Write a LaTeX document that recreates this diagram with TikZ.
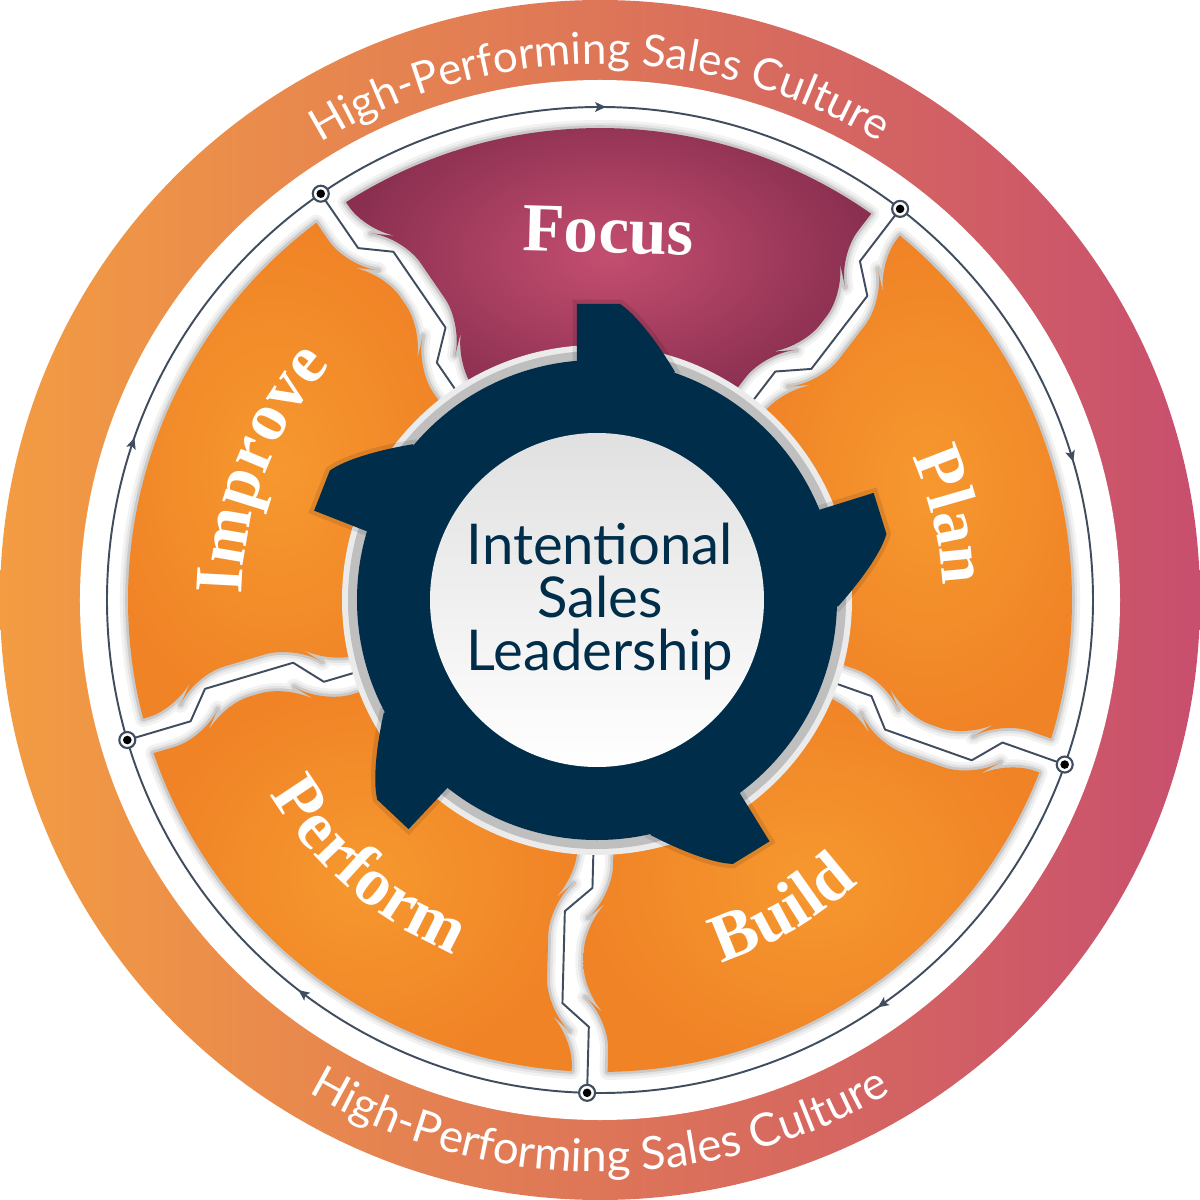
\documentclass[tikz,border=0pt]{standalone}
\usepackage{fontspec}
\usetikzlibrary{decorations.text}
\newfontfamily\segfont{Liberation Serif}
\newfontfamily\latofont{Lato}
\definecolor{navy}{HTML}{002E4A}
\definecolor{linec}{HTML}{3F4D5F}
\definecolor{ringL}{HTML}{F39C42}
\definecolor{ringR}{HTML}{C84F6E}
\definecolor{focusIn}{HTML}{C44E70}
\definecolor{focusOut}{HTML}{8A2F50}
\definecolor{orIn}{HTML}{F6982F}
\definecolor{orOut}{HTML}{F08326}
\newcommand\segstyle{\color{white}\segfont\bfseries\fontsize{19.5pt}{20pt}\selectfont}
\newcommand\ringstyle{\color{white}\latofont\fontsize{12.5pt}{13pt}\selectfont}
\newcommand\ringstyleb{\color{white}\latofont\fontsize{13pt}{13pt}\selectfont}
\newcommand\segpath{(-1.94:472) [rounded corners=9] -- (434.4,-16) -- (411.4,-43) -- (304.8,-43) -- (280.8,-16) -- (222,-16) -- (-66.85:222.9) -- (-68.15:297.7) -- (-73.25:321.1) -- (-73.02:394.9) -- (-69.26:418.3) [sharp corners] -- (-69.57:472) arc[start angle=-69.57, end angle=-1.94, radius=472] -- cycle}
\newcommand\divpath{(492,0) -- (427,0) -- (404,-27) -- (312,-27) -- (288,0) -- (238,0)}
\newcommand\toothpath{(-20,200) -- (-20,296) -- (23,296) .. controls (40,285) and (62,255) .. (78,228) -- (40,200) -- cycle}
\tikzset{
  divline/.style={linec, line width=0.55pt, line join=round},
  seglabel/.style={decorate, decoration={text along path, text={|\segstyle|#1}, text align=center}},
}
\begin{document}
\begin{tikzpicture}[x=0.01cm, y=0.01cm]
\useasboundingbox (-600,-600) rectangle (600,600);
% outer ring
\shade[left color=ringL, right color=ringR] (0,0) circle[radius=600];
\fill[white] (0,0) circle[radius=520];
\draw[divline] (0,0) circle[radius=493];
% segment glows
\foreach \t in {124.5,52.5,-19.5,-91.5,-163.5}{
  \begin{scope}[rotate=\t]
    \draw[black!5, line width=4.6pt, line join=round] \segpath;
    \draw[black!11, line width=3pt, line join=round] \segpath;
    \draw[black!21, line width=1.6pt, line join=round] \segpath;
  \end{scope}
}
% segments
\foreach \t/\ci/\co in {124.5/focusIn/focusOut, 52.5/orIn/orOut, -19.5/orIn/orOut, -91.5/orIn/orOut, -163.5/orIn/orOut}{
  \begin{scope}[rotate=\t]
    \shade[inner color=\ci, outer color=\co] \segpath;
  \end{scope}
}
% divider lines
\foreach \t in {124.5,52.5,-19.5,-91.5,-163.5}{
  \draw[divline, rotate=\t] \divpath;
}
% dots
\foreach \t in {124.5,52.5,-19.5,-91.5,-163.5}{
  \fill[white] (\t:493) circle[radius=8.5];
  \draw[linec, line width=0.6pt] (\t:493) circle[radius=8];
  \fill[black] (\t:493) circle[radius=4.3];
}
% arrowheads (clockwise)
\foreach \t in {90,17,-55,-127,161.5}{
  \fill[linec, rotate=\t] (493,-6) -- (488,5) -- (493,2.5) -- (498,5) -- cycle;
}
% gear
\begin{scope}[shift={(-3,0)}]
  \fill[black!8] (0,0) circle[radius=255];
  \fill[black!25] (0,0) circle[radius=249];
  \foreach \r in {0,-72.7,-148.3,136.7,68.6}{
    \draw[black, opacity=0.10, line width=2.5pt, rotate=\r] \toothpath;
  }
  \foreach \r in {0,-72.7,-148.3,136.7,68.6}{
    \fill[navy, rotate=\r] \toothpath;
  }
  \fill[navy] (0,0) circle[radius=240];
  \shade[top color=black!12, bottom color=white] (0,0) circle[radius=167];
\end{scope}
\node[text=navy, align=center, font=\latofont\fontsize{16pt}{15.1pt}\selectfont] (centre) at (0,-2) {Intentional\\Sales\\Leadership};
% segment labels
\node[font=\segstyle, rotate=-1.5, inner sep=0pt] (focus) at (88.7:369) {Focus};
\path[seglabel=Plan] (38.5:343) arc[start angle=38.5, end angle=-11.5, radius=343];
\path[seglabel=Improve] (189:358) arc[start angle=189, end angle=129, radius=358];
\path[seglabel=Build] (-89.5:383) arc[start angle=-89.5, end angle=-29.5, radius=383];
\path[seglabel=Perform] (-161:383) arc[start angle=-161, end angle=-101, radius=383];
% ring texts
\path[decorate, decoration={text along path, text={|\ringstyle|High-Performing Sales Culture}, text align=center}] (150:536) arc[start angle=150, end angle=30, radius=536];
\path[decorate, decoration={text along path, text={|\ringstyleb|High-Performing Sales Culture}, text align=center}] (225:572) arc[start angle=225, end angle=315, radius=572];
\end{tikzpicture}
\end{document}
